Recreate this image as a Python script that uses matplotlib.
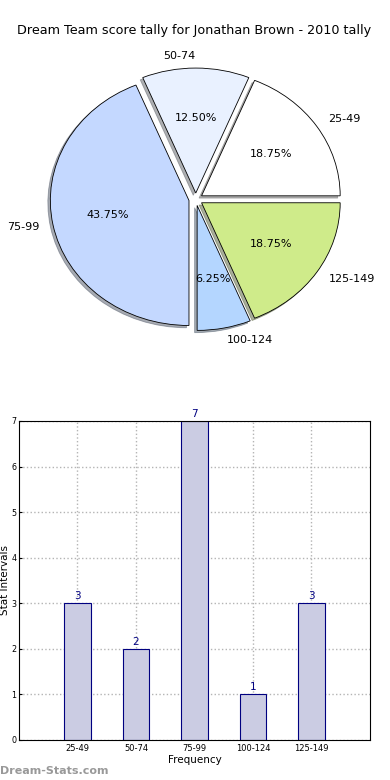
import matplotlib
matplotlib.use('Agg')
import matplotlib.pyplot as plt

# 数据
categories = ['25-49', '50-74', '75-99', '100-124', '125-149']
counts = [3, 2, 7, 1, 3]
pie_colors = ['#ffffff', '#e9f1ff', '#c4d8ff', '#b4d6ff', '#cfeb8a']
title = 'Dream Team score tally for Jonathan Brown - 2010 tally'

fig = plt.figure(figsize=(3.9, 7.8), dpi=100)

# 饼图
ax1 = fig.add_axes([0.047, 0.533, 0.91, 0.423])
wedges, texts, autotexts = ax1.pie(counts, labels=categories, colors=pie_colors,
                                   explode=[0.05] * len(counts), autopct='%1.2f%%',
                                   shadow={'ox': -0.013, 'oy': -0.013, 'shade': 0.6},
                                   startangle=0, labeldistance=1.1,
                                   wedgeprops={'edgecolor': 'black', 'linewidth': 0.6},
                                   textprops={'fontsize': 8})
ax1.set_aspect('auto')
ax1.set_xlim(-1.28, 1.28)
ax1.set_ylim(-1.32, 1.32)
fig.text(0.497, 0.961, title, ha='center', va='center', fontsize=9.2)

# 柱状图
ax2 = fig.add_axes([0.0487, 0.0513, 0.9, 0.409])
x = list(range(1, len(categories) + 1))
ax2.bar(x, counts, width=0.45, color='#cbcce3', edgecolor='navy', linewidth=0.8, zorder=2)
for xi, c in zip(x, counts):
    ax2.text(xi, c + 0.05, str(c), ha='center', va='bottom', color='navy', fontsize=7.5)
ax2.set_xlim(0, 6)
ax2.set_ylim(0, 7)
ax2.set_xticks(x)
ax2.set_xticklabels(categories, fontsize=6)
ax2.set_yticks(range(0, 8))
ax2.tick_params(axis='y', labelsize=5.8, direction='in', length=2, pad=2)
ax2.tick_params(axis='x', direction='in', length=0, pad=3)
ax2.grid(True, linestyle=':', color='#b4b4b4', linewidth=1, zorder=0)
ax2.set_axisbelow(True)
ax2.set_xlabel('Frequency', fontsize=7.5, labelpad=1)
ax2.set_ylabel('Stat Intervals', fontsize=7.5, labelpad=1)

fig.text(0.0, 0.012, 'Dream-Stats.com', fontsize=8, color='#999999',
         fontweight='bold', ha='left', va='center')

fig.savefig('out.png', dpi=100)
